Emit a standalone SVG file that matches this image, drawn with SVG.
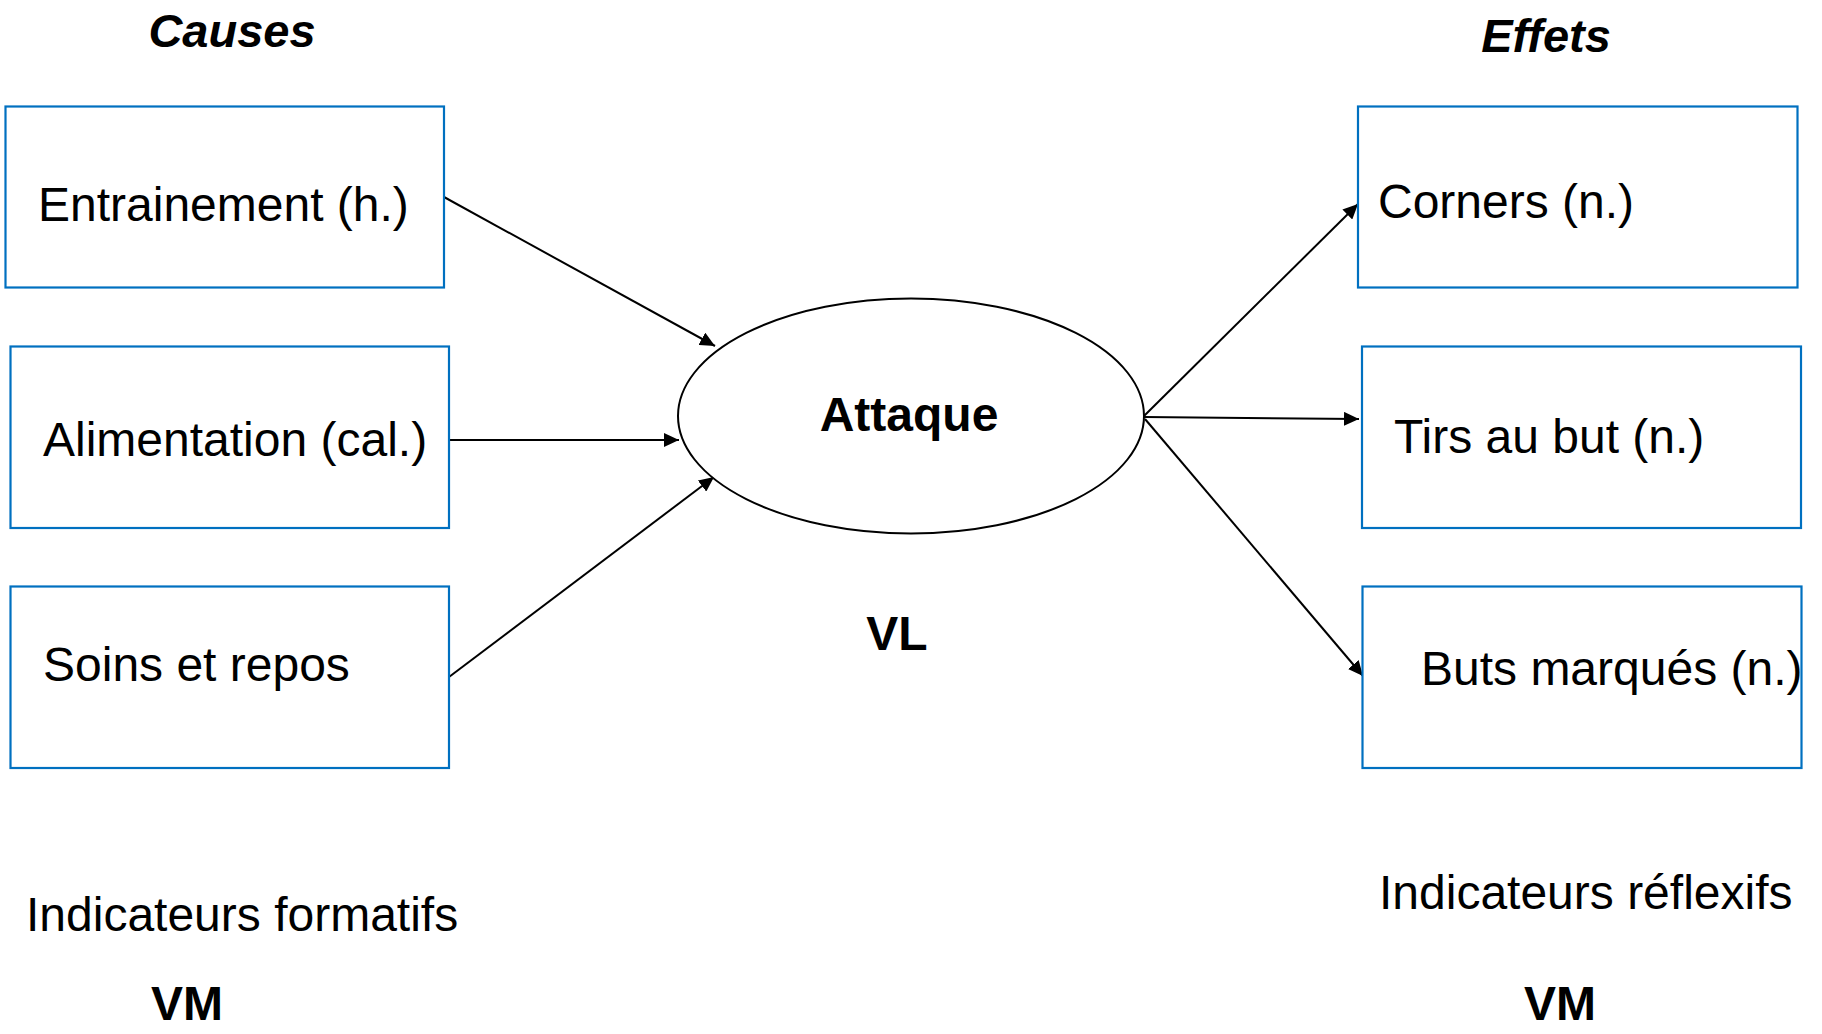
<svg xmlns="http://www.w3.org/2000/svg" width="1822" height="1034" viewBox="0 0 1822 1034">
  <style>
    .box { fill: #ffffff; stroke: #0070C0; stroke-width: 2.2; }
    .latent { fill: #ffffff; stroke: #000000; stroke-width: 2; }
    .lbl { font-family: "Liberation Sans", Arial, sans-serif; font-size: 48px; fill: #000000; }
    .bold { font-weight: bold; }
    .head { font-family: "Liberation Sans", Arial, sans-serif; font-size: 47px; font-weight: bold; font-style: italic; fill: #000000; }
    .edge { stroke: #000000; stroke-width: 2; fill: none; marker-end: url(#arrow); }
  </style>
  <defs>
    <marker id="arrow" markerUnits="userSpaceOnUse" markerWidth="15" markerHeight="14" refX="15" refY="7" orient="auto">
      <path d="M0,0 L15,7 L0,14 z" fill="#000000"/>
    </marker>
  </defs>
  <rect width="1822" height="1034" fill="#ffffff"/>

  <!-- column headings -->
  <text class="head" x="232" y="47" text-anchor="middle">Causes</text>
  <text class="head" x="1546" y="52" text-anchor="middle">Effets</text>

  <!-- connectors -->
  <g id="connectors">
    <line class="edge" x1="444" y1="197" x2="715" y2="346"/>
    <line class="edge" x1="449" y1="440" x2="679" y2="440"/>
    <line class="edge" x1="449" y1="677" x2="714" y2="477"/>
    <line class="edge" x1="1144" y1="416" x2="1358" y2="204"/>
    <line class="edge" x1="1144" y1="417" x2="1359" y2="419"/>
    <line class="edge" x1="1145" y1="419" x2="1363" y2="676"/>
  </g>

  <!-- formative indicators -->
  <g id="entrainement">
    <rect class="box" x="5.5" y="106.5" width="438.5" height="181"/>
    <text class="lbl" x="38" y="221">Entrainement (h.)</text>
  </g>
  <g id="alimentation">
    <rect class="box" x="10.5" y="346.5" width="438.5" height="181.5"/>
    <text class="lbl" x="43" y="456">Alimentation (cal.)</text>
  </g>
  <g id="soins">
    <rect class="box" x="10.5" y="586.5" width="438.5" height="181.5"/>
    <text class="lbl" x="43" y="681">Soins et repos</text>
  </g>

  <!-- latent variable -->
  <g id="attaque">
    <ellipse class="latent" cx="911" cy="416" rx="233" ry="117.5"/>
    <text class="lbl bold" x="909" y="431" text-anchor="middle">Attaque</text>
  </g>
  <text class="lbl bold" x="897" y="650" text-anchor="middle">VL</text>

  <!-- reflective indicators -->
  <g id="corners">
    <rect class="box" x="1358" y="106.5" width="439.5" height="181"/>
    <text class="lbl" x="1378" y="218">Corners (n.)</text>
  </g>
  <g id="tirs">
    <rect class="box" x="1362" y="346.5" width="439" height="181.5"/>
    <text class="lbl" x="1394" y="453">Tirs au but (n.)</text>
  </g>
  <g id="buts">
    <rect class="box" x="1362.5" y="586.5" width="439" height="181.5"/>
    <text class="lbl" x="1421" y="685">Buts marqués (n.)</text>
  </g>

  <!-- indicator type captions -->
  <text class="lbl" x="26" y="931">Indicateurs formatifs</text>
  <text class="lbl bold" x="187" y="1020" text-anchor="middle">VM</text>
  <text class="lbl" x="1379" y="909">Indicateurs réflexifs</text>
  <text class="lbl bold" x="1560" y="1020" text-anchor="middle">VM</text>
</svg>
